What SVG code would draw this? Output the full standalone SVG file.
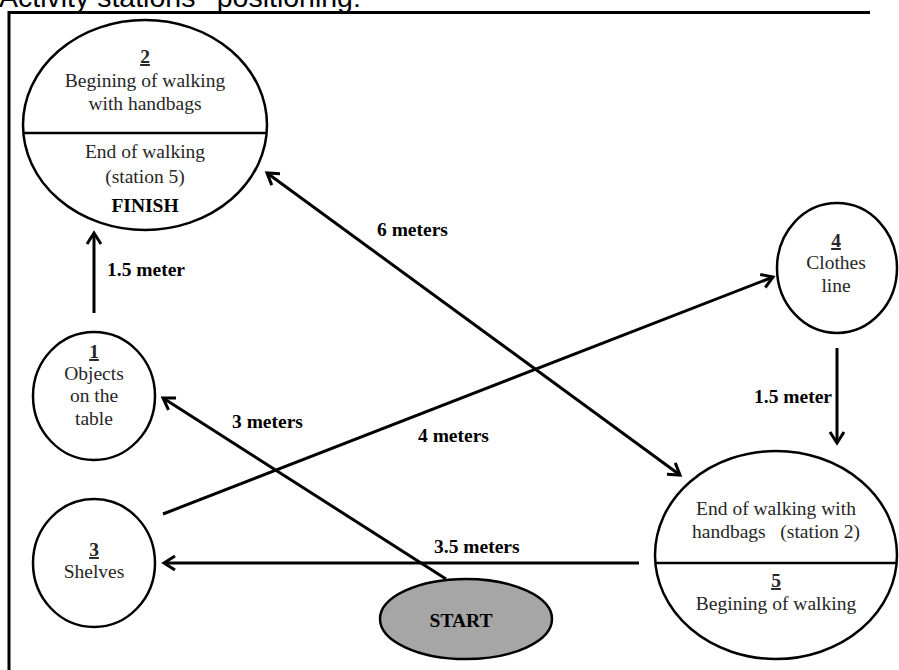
<svg xmlns="http://www.w3.org/2000/svg" width="899" height="670" viewBox="0 0 899 670">
<style>
.title{font-family:"Liberation Sans",Arial,sans-serif;font-size:28.5px;fill:#000;white-space:pre}
.t{font-family:"Liberation Serif","Times New Roman",serif;font-size:19.5px;fill:#262626;text-anchor:middle;white-space:pre}
.b{font-family:"Liberation Serif","Times New Roman",serif;font-size:19.5px;font-weight:bold;fill:#000;white-space:pre}
.num{font-family:"Liberation Serif","Times New Roman",serif;font-size:19.5px;font-weight:bold;fill:#262626;text-anchor:middle;text-decoration:underline}
.node{fill:#fff;stroke:#000;stroke-width:2.5}
.frame{stroke:#000;stroke-width:3;fill:none}
.conn line{stroke:#000;stroke-width:3;fill:none}
</style>
<defs>
<marker id="arr" viewBox="0 0 20 20" markerWidth="20" markerHeight="20" refX="14" refY="10" orient="auto-start-reverse" markerUnits="userSpaceOnUse">
<path d="M3,3 L14,10 L3,17" fill="none" stroke="#000" stroke-width="3"/>
</marker>
</defs>
<rect width="899" height="670" fill="#fff"/>
<text class="title" x="-1" y="7">Activity stations'  positioning:</text>
<g id="frame">
<line class="frame" x1="9" y1="12.5" x2="870" y2="12.5"/>
<line class="frame" x1="9" y1="11" x2="9" y2="670"/>
</g>
<g id="node2">
<ellipse class="node" cx="145" cy="125" rx="122" ry="105"/>
<line x1="23" y1="133" x2="267" y2="133" stroke="#000" stroke-width="2.5"/>
<text class="num" x="145" y="63">2</text>
<text class="t" x="145" y="87">Begining of walking</text>
<text class="t" x="145" y="110">with handbags</text>
<text class="t" x="145" y="158">End of walking</text>
<text class="t" x="145" y="183">(station 5)</text>
<text class="b" x="145" y="212" text-anchor="middle">FINISH</text>
</g>
<g id="node1">
<ellipse class="node" cx="94" cy="396" rx="61" ry="64"/>
<text class="num" x="94" y="358">1</text>
<text class="t" x="94" y="380">Objects</text>
<text class="t" x="94" y="402">on the</text>
<text class="t" x="94" y="425">table</text>
</g>
<g id="node3">
<ellipse class="node" cx="94" cy="563" rx="61" ry="64"/>
<text class="num" x="94" y="556">3</text>
<text class="t" x="94" y="578">Shelves</text>
</g>
<g id="node4">
<ellipse class="node" cx="837" cy="268" rx="60" ry="65"/>
<text class="num" x="836" y="247">4</text>
<text class="t" x="836" y="269">Clothes</text>
<text class="t" x="836" y="292">line</text>
</g>
<g id="node5">
<ellipse class="node" cx="776" cy="555" rx="121" ry="104"/>
<line x1="655" y1="563" x2="897" y2="563" stroke="#000" stroke-width="2.5"/>
<text class="t" x="776" y="515">End of walking with</text>
<text class="t" x="776" y="538">handbags   (station 2)</text>
<text class="num" x="776" y="587">5</text>
<text class="t" x="776" y="610">Begining of walking</text>
</g>
<g id="start">
<ellipse cx="466" cy="619" rx="86" ry="40" fill="#a6a6a6" stroke="#000" stroke-width="2.5"/>
<text class="b" x="461" y="627" text-anchor="middle">START</text>
</g>
<g id="connectors" class="conn">
<line x1="94" y1="313" x2="94" y2="233" marker-end="url(#arr)"/>
<line x1="837" y1="348" x2="837" y2="443" marker-end="url(#arr)"/>
<line x1="639" y1="563" x2="164" y2="563" marker-end="url(#arr)"/>
<line x1="446" y1="579" x2="163" y2="398" marker-end="url(#arr)"/>
<line x1="163" y1="514" x2="773" y2="277" marker-end="url(#arr)"/>
<line x1="267" y1="173" x2="680" y2="475" marker-start="url(#arr)" marker-end="url(#arr)"/>
</g>
<g id="labels">
<text class="b" x="107" y="276">1.5 meter</text>
<text class="b" x="832" y="403" text-anchor="end">1.5 meter</text>
<text class="b" x="434" y="553">3.5 meters</text>
<text class="b" x="232" y="428">3 meters</text>
<text class="b" x="418" y="442">4 meters</text>
<text class="b" x="377" y="236">6 meters</text>
</g>
</svg>
